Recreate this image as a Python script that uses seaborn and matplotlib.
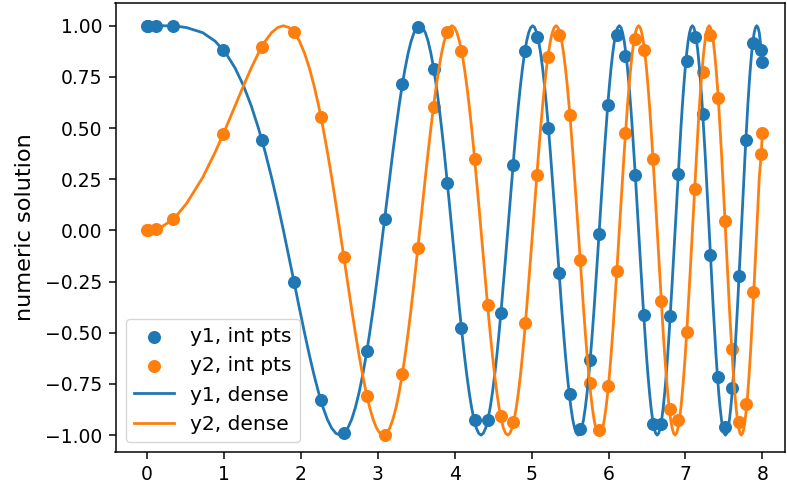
import matplotlib
matplotlib.use("Agg")
import matplotlib.pyplot as plt
import seaborn as sns

# Integration points reported by the solver
t_int = [0.0, 0.01, 0.12, 0.34, 0.99, 1.49, 1.91, 2.26, 2.56, 2.86,
         3.09, 3.32, 3.52, 3.725, 3.905, 4.087, 4.26, 4.427, 4.597, 4.759,
         4.918, 5.066, 5.218, 5.357, 5.494, 5.63, 5.753, 5.876, 5.99, 6.108,
         6.22, 6.345, 6.462, 6.576, 6.684, 6.795, 6.905, 7.015, 7.12, 7.225,
         7.324, 7.42, 7.51, 7.60, 7.70, 7.785, 7.882, 7.985, 8.0]
y1_int = [1.0, 1.0, 1.0, 0.998, 0.882, 0.44, -0.25, -0.83, -0.99, -0.59,
          0.054, 0.713, 0.994, 0.79, 0.23, -0.476, -0.925, -0.925, -0.405, 0.32,
          0.878, 0.945, 0.50, -0.21, -0.80, -0.969, -0.634, -0.016, 0.613, 0.956,
          0.85, 0.27, -0.412, -0.948, -0.948, -0.42, 0.275, 0.83, 0.944, 0.569,
          -0.119, -0.714, -0.961, -0.768, -0.221, 0.444, 0.915, 0.882, 0.825]
y2_int = [0.0, 0.0, 0.007, 0.058, 0.471, 0.898, 0.968, 0.554, -0.13, -0.807,
          -0.998, -0.701, -0.085, 0.605, 0.97, 0.875, 0.35, -0.365, -0.905, -0.935,
          -0.452, 0.27, 0.845, 0.956, 0.565, -0.144, -0.743, -0.977, -0.76, -0.196,
          0.477, 0.935, 0.879, 0.347, -0.343, -0.874, -0.928, -0.494, 0.20, 0.776,
          0.956, 0.646, 0.046, -0.58, -0.936, -0.85, -0.30, 0.373, 0.477]

# Dense output of the solver
t_dense = [0.0, 0.1, 0.2, 0.3, 0.4,
           0.5117, 0.7236, 0.8862, 1.0233, 1.1441, 1.2533, 1.3537, 1.4472, 1.5350, 1.6180, 1.6970, 1.7725,
           1.8448, 1.9145, 1.9817, 2.0467, 2.1097, 2.1708, 2.2303, 2.2882, 2.3447, 2.3999, 2.4538, 2.5066,
           2.5583, 2.6090, 2.6587, 2.7075, 2.7554, 2.8025, 2.8488, 2.8944, 2.9393, 2.9835, 3.0271, 3.0700,
           3.1123, 3.1541, 3.1954, 3.2361, 3.2763, 3.3160, 3.3552, 3.3940, 3.4324, 3.4703, 3.5078, 3.5449,
           3.5816, 3.6180, 3.6540, 3.6897, 3.7250, 3.7599, 3.7946, 3.8290, 3.8630, 3.8967, 3.9301, 3.9633,
           3.9962, 4.0288, 4.0612, 4.0933, 4.1252, 4.1568, 4.1882, 4.2193, 4.2502, 4.2809, 4.3113, 4.3416,
           4.3717, 4.4015, 4.4311, 4.4606, 4.4898, 4.5189, 4.5477, 4.5764, 4.6049, 4.6333, 4.6614, 4.6895,
           4.7173, 4.7450, 4.7724, 4.7998, 4.8270, 4.8541, 4.8809, 4.9077, 4.9343, 4.9608, 4.9871, 5.0133,
           5.0393, 5.0652, 5.0909, 5.1166, 5.1421, 5.1675, 5.1928, 5.2180, 5.2430, 5.2679, 5.2927, 5.3174,
           5.3419, 5.3664, 5.3907, 5.4150, 5.4391, 5.4631, 5.4870, 5.5108, 5.5345, 5.5581, 5.5816, 5.6050,
           5.6283, 5.6515, 5.6746, 5.6976, 5.7205, 5.7434, 5.7661, 5.7888, 5.8114, 5.8339, 5.8563, 5.8786,
           5.9008, 5.9229, 5.9449, 5.9669, 5.9888, 6.0107, 6.0324, 6.0541, 6.0756, 6.0971, 6.1186, 6.1400,
           6.1613, 6.1825, 6.2036, 6.2246, 6.2456, 6.2666, 6.2874, 6.3082, 6.3289, 6.3496, 6.3702, 6.3907,
           6.4111, 6.4315, 6.4518, 6.4721, 6.4923, 6.5124, 6.5325, 6.5525, 6.5724, 6.5923, 6.6121, 6.6319,
           6.6516, 6.6713, 6.6909, 6.7104, 6.7299, 6.7493, 6.7687, 6.7880, 6.8072, 6.8264, 6.8456, 6.8647,
           6.8837, 6.9027, 6.9216, 6.9405, 6.9594, 6.9782, 6.9969, 7.0156, 7.0342, 7.0528, 7.0713, 7.0898,
           7.1083, 7.1267, 7.1450, 7.1633, 7.1815, 7.1997, 7.2179, 7.2360, 7.2541, 7.2721, 7.2901, 7.3080,
           7.3259, 7.3438, 7.3616, 7.3793, 7.3970, 7.4147, 7.4323, 7.4499, 7.4675, 7.4850, 7.5025, 7.5199,
           7.5373, 7.5546, 7.5719, 7.5892, 7.6064, 7.6236, 7.6408, 7.6579, 7.6750, 7.6920, 7.7090, 7.7260,
           7.7429, 7.7598, 7.7766, 7.7934, 7.8102, 7.8269, 7.8436, 7.8603, 7.8769, 7.8935, 7.9101, 7.9267,
           7.9432, 7.9596, 7.985, 8.0]
y1_dense = [1.0, 1.0, 1.0, 0.999, 0.997,
            0.991, 0.966, 0.924, 0.866, 0.793, 0.707, 0.609, 0.5, 0.383, 0.259, 0.131, 0.0,
            -0.131, -0.259, -0.383, -0.5, -0.609, -0.707, -0.793, -0.866, -0.924, -0.966, -0.991, -1.0,
            -0.991, -0.966, -0.924, -0.866, -0.793, -0.707, -0.609, -0.5, -0.383, -0.259, -0.131, 0.0,
            0.131, 0.259, 0.383, 0.5, 0.609, 0.707, 0.793, 0.866, 0.924, 0.966, 0.991, 1.0,
            0.991, 0.966, 0.924, 0.866, 0.793, 0.707, 0.609, 0.5, 0.383, 0.259, 0.131, 0.0,
            -0.131, -0.259, -0.383, -0.5, -0.609, -0.707, -0.793, -0.866, -0.924, -0.966, -0.991, -1.0,
            -0.991, -0.966, -0.924, -0.866, -0.793, -0.707, -0.609, -0.5, -0.383, -0.259, -0.131, 0.0,
            0.131, 0.259, 0.383, 0.5, 0.609, 0.707, 0.793, 0.866, 0.924, 0.966, 0.991, 1.0,
            0.991, 0.966, 0.924, 0.866, 0.793, 0.707, 0.609, 0.5, 0.383, 0.259, 0.131, 0.0,
            -0.131, -0.259, -0.383, -0.5, -0.609, -0.707, -0.793, -0.866, -0.924, -0.966, -0.991, -1.0,
            -0.991, -0.966, -0.924, -0.866, -0.793, -0.707, -0.609, -0.5, -0.383, -0.259, -0.131, 0.0,
            0.131, 0.259, 0.383, 0.5, 0.609, 0.707, 0.793, 0.866, 0.924, 0.966, 0.991, 1.0,
            0.991, 0.966, 0.924, 0.866, 0.793, 0.707, 0.609, 0.5, 0.383, 0.259, 0.131, 0.0,
            -0.131, -0.259, -0.383, -0.5, -0.609, -0.707, -0.793, -0.866, -0.924, -0.966, -0.991, -1.0,
            -0.991, -0.966, -0.924, -0.866, -0.793, -0.707, -0.609, -0.5, -0.383, -0.259, -0.131, 0.0,
            0.131, 0.259, 0.383, 0.5, 0.609, 0.707, 0.793, 0.866, 0.924, 0.966, 0.991, 1.0,
            0.991, 0.966, 0.924, 0.866, 0.793, 0.707, 0.609, 0.5, 0.383, 0.259, 0.131, 0.0,
            -0.131, -0.259, -0.383, -0.5, -0.609, -0.707, -0.793, -0.866, -0.924, -0.966, -0.991, -1.0,
            -0.991, -0.966, -0.924, -0.866, -0.793, -0.707, -0.609, -0.5, -0.383, -0.259, -0.131, 0.0,
            0.131, 0.259, 0.383, 0.5, 0.609, 0.707, 0.793, 0.866, 0.924, 0.966, 0.991, 1.0,
            0.991, 0.966, 0.882, 0.825]
y2_dense = [0.0, 0.005, 0.020, 0.045, 0.080,
            0.131, 0.259, 0.383, 0.5, 0.609, 0.707, 0.793, 0.866, 0.924, 0.966, 0.991, 1.0,
            0.991, 0.966, 0.924, 0.866, 0.793, 0.707, 0.609, 0.5, 0.383, 0.259, 0.131, 0.0,
            -0.131, -0.259, -0.383, -0.5, -0.609, -0.707, -0.793, -0.866, -0.924, -0.966, -0.991, -1.0,
            -0.991, -0.966, -0.924, -0.866, -0.793, -0.707, -0.609, -0.5, -0.383, -0.259, -0.131, 0.0,
            0.131, 0.259, 0.383, 0.5, 0.609, 0.707, 0.793, 0.866, 0.924, 0.966, 0.991, 1.0,
            0.991, 0.966, 0.924, 0.866, 0.793, 0.707, 0.609, 0.5, 0.383, 0.259, 0.131, 0.0,
            -0.131, -0.259, -0.383, -0.5, -0.609, -0.707, -0.793, -0.866, -0.924, -0.966, -0.991, -1.0,
            -0.991, -0.966, -0.924, -0.866, -0.793, -0.707, -0.609, -0.5, -0.383, -0.259, -0.131, 0.0,
            0.131, 0.259, 0.383, 0.5, 0.609, 0.707, 0.793, 0.866, 0.924, 0.966, 0.991, 1.0,
            0.991, 0.966, 0.924, 0.866, 0.793, 0.707, 0.609, 0.5, 0.383, 0.259, 0.131, 0.0,
            -0.131, -0.259, -0.383, -0.5, -0.609, -0.707, -0.793, -0.866, -0.924, -0.966, -0.991, -1.0,
            -0.991, -0.966, -0.924, -0.866, -0.793, -0.707, -0.609, -0.5, -0.383, -0.259, -0.131, 0.0,
            0.131, 0.259, 0.383, 0.5, 0.609, 0.707, 0.793, 0.866, 0.924, 0.966, 0.991, 1.0,
            0.991, 0.966, 0.924, 0.866, 0.793, 0.707, 0.609, 0.5, 0.383, 0.259, 0.131, 0.0,
            -0.131, -0.259, -0.383, -0.5, -0.609, -0.707, -0.793, -0.866, -0.924, -0.966, -0.991, -1.0,
            -0.991, -0.966, -0.924, -0.866, -0.793, -0.707, -0.609, -0.5, -0.383, -0.259, -0.131, 0.0,
            0.131, 0.259, 0.383, 0.5, 0.609, 0.707, 0.793, 0.866, 0.924, 0.966, 0.991, 1.0,
            0.991, 0.966, 0.924, 0.866, 0.793, 0.707, 0.609, 0.5, 0.383, 0.259, 0.131, 0.0,
            -0.131, -0.259, -0.383, -0.5, -0.609, -0.707, -0.793, -0.866, -0.924, -0.966, -0.991, -1.0,
            -0.991, -0.966, -0.924, -0.866, -0.793, -0.707, -0.609, -0.5, -0.383, -0.259, -0.131, 0.0,
            0.131, 0.259, 0.373, 0.477]

BLUE = "#1f77b4"
ORANGE = "#ff7f0e"

plt.rcParams.update({
    "font.family": ["DejaVu Sans"],
    "font.size": 13.5,
    "axes.labelsize": 16.2,
    "axes.labelpad": 7.5,
    "axes.linewidth": 1.08,
    "xtick.major.size": 4.7,
    "ytick.major.size": 4.7,
    "xtick.major.width": 1.08,
    "ytick.major.width": 1.08,
    "xtick.major.pad": 4.7,
    "ytick.major.pad": 4.7,
})

fig = plt.figure(figsize=(7.87, 5.0), dpi=100)
ax = fig.add_axes([115.5 / 787, (500 - 451.7) / 500, (785 - 115.5) / 787, (451.7 - 3) / 500])

sns.scatterplot(x=t_int, y=y1_int, color=BLUE, s=88, linewidth=0,
                label="y1, int pts", ax=ax, zorder=2)
sns.scatterplot(x=t_int, y=y2_int, color=ORANGE, s=88, linewidth=0,
                label="y2, int pts", ax=ax, zorder=2)
sns.lineplot(x=t_dense, y=y1_dense, color=BLUE, linewidth=2.0, estimator=None,
             sort=False, label="y1, dense", ax=ax, zorder=2)
sns.lineplot(x=t_dense, y=y2_dense, color=ORANGE, linewidth=2.0, estimator=None,
             sort=False, label="y2, dense", ax=ax, zorder=2)

ax.set_xlim(-0.411, 8.294)
ax.set_ylim(-1.081, 1.111)
ax.set_xticks([0, 1, 2, 3, 4, 5, 6, 7, 8])
ax.set_yticks([-1.0, -0.75, -0.5, -0.25, 0.0, 0.25, 0.5, 0.75, 1.0])
ax.set_ylabel("numeric solution")
ax.legend(loc="lower left", fontsize=14.5)

fig.savefig("out.png", dpi=100)
